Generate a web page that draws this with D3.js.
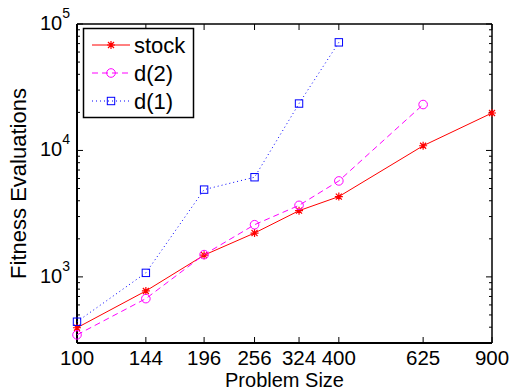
<!DOCTYPE html>
<html>
<head>
<meta charset="utf-8">
<script src="https://cdn.jsdelivr.net/npm/d3@7"></script>
<style>
  body { margin: 0; background: #fff; }
  text { font-family: "Liberation Sans", Arial, sans-serif; fill: #000; }
</style>
</head>
<body>
<script>
'use strict';

// problem sizes on the x axis
const sizes = [100, 144, 196, 256, 324, 400, 625, 900];
const xTickLabels = ["100", "144", "196", "256", "324", "400", "625", "900"];
const yDecades = [3, 4, 5];

// fitness evaluations per series
const stockSizes = [100, 144, 196, 256, 324, 400, 625, 900];
const stockVals = [396, 774, 1486, 2222, 3340, 4315, 10890, 19770];
const d2Sizes = [100, 144, 196, 256, 324, 400, 625];
const d2Vals = [348, 673, 1500, 2586, 3680, 5740, 23070];
const d1Sizes = [100, 144, 196, 256, 324, 400];
const d1Vals = [442, 1076, 4900, 6140, 23490, 71600];

const seriesNames = ["stock", "d(2)", "d(1)"];

(function() {
  const W = 512, H = 391;
  const left = 77, right = 492, top = 24, bottom = 343;

  const svg = d3.select('body').append('svg')
    .attr('width', W).attr('height', H);

  const x = d3.scaleLog().domain([100, 900]).range([left, right]);
  const y = d3.scaleLog().domain([300, 1e5]).range([bottom, top]);

  // minor y ticks (2..9 x 10^k) on both sides, pointing inward
  let minor = [];
  for (let k = 2; k <= 4; k++) {
    for (let m = 2; m <= 9; m++) {
      let v = m * Math.pow(10, k);
      if (v >= 300 && v <= 1e5) minor.push(v);
    }
  }
  const g = svg.append('g').attr('stroke', '#000');
  minor.forEach(function(v) {
    g.append('line').attr('x1', left).attr('x2', left + 3)
      .attr('y1', y(v)).attr('y2', y(v)).attr('stroke-width', 1);
    g.append('line').attr('x1', right).attr('x2', right - 3)
      .attr('y1', y(v)).attr('y2', y(v)).attr('stroke-width', 1);
  });
  yDecades.forEach(function(k) {
    let v = Math.pow(10, k);
    g.append('line').attr('x1', left).attr('x2', left + 6)
      .attr('y1', y(v)).attr('y2', y(v)).attr('stroke-width', 1);
    g.append('line').attr('x1', right).attr('x2', right - 6)
      .attr('y1', y(v)).attr('y2', y(v)).attr('stroke-width', 1);
  });
  sizes.forEach(function(s) {
    g.append('line').attr('x1', x(s)).attr('x2', x(s))
      .attr('y1', bottom).attr('y2', bottom - 6).attr('stroke-width', 1);
    g.append('line').attr('x1', x(s)).attr('x2', x(s))
      .attr('y1', top).attr('y2', top + 6).attr('stroke-width', 1);
  });

  // box
  svg.append('line').attr('x1', left).attr('x2', right).attr('y1', top).attr('y2', top)
    .attr('stroke', '#000').attr('stroke-width', 1.5);
  svg.append('line').attr('x1', right).attr('x2', right).attr('y1', top).attr('y2', bottom)
    .attr('stroke', '#000').attr('stroke-width', 1.5);
  svg.append('line').attr('x1', left).attr('x2', right).attr('y1', bottom).attr('y2', bottom)
    .attr('stroke', '#000').attr('stroke-width', 2);
  svg.append('line').attr('x1', left).attr('x2', left).attr('y1', top).attr('y2', bottom)
    .attr('stroke', '#000').attr('stroke-width', 2);

  // x tick labels
  svg.selectAll('.xlab').data(sizes).enter().append('text')
    .attr('class', 'xlab')
    .attr('x', d => x(d)).attr('y', 364.5)
    .attr('text-anchor', 'middle')
    .style('font-size', '20.5px')
    .text((d, i) => xTickLabels[i]);

  // y tick labels: 10^k
  yDecades.forEach(function(k) {
    let t = svg.append('text')
      .attr('x', 70).attr('y', y(Math.pow(10, k)) + 6)
      .attr('text-anchor', 'end')
      .style('font-size', '20px');
    t.append('tspan').text('10');
    t.append('tspan').attr('dy', -12).style('font-size', '14px').text(String(k));
  });

  // axis labels
  svg.append('text')
    .attr('transform', 'translate(26,' + ((top + bottom) / 2) + ')rotate(-90)')
    .attr('text-anchor', 'middle')
    .style('font-size', '22px')
    .text('Fitness Evaluations');
  svg.append('text')
    .attr('x', (left + right) / 2).attr('y', 386.8)
    .attr('text-anchor', 'middle')
    .style('font-size', '20px')
    .text('Problem Size');

  // markers
  function star(sel, cx, cy, color) {
    const r = 4;
    const p = 'M' + (cx - r) + ',' + cy + 'L' + (cx + r) + ',' + cy +
      'M' + cx + ',' + (cy - r) + 'L' + cx + ',' + (cy + r) +
      'M' + (cx - 3) + ',' + (cy - 3) + 'L' + (cx + 3) + ',' + (cy + 3) +
      'M' + (cx - 3) + ',' + (cy + 3) + 'L' + (cx + 3) + ',' + (cy - 3);
    sel.append('path').attr('d', p).attr('stroke', color).attr('stroke-width', 1.2).attr('fill', 'none');
  }
  function circ(sel, cx, cy, color) {
    sel.append('circle').attr('cx', cx).attr('cy', cy).attr('r', 4.3)
      .attr('fill', 'none').attr('stroke', color).attr('stroke-width', 1);
  }
  function square(sel, cx, cy, color) {
    sel.append('rect').attr('x', cx - 3.7).attr('y', cy - 3.7)
      .attr('width', 7.4).attr('height', 7.4)
      .attr('fill', 'none').attr('stroke', color).attr('stroke-width', 1);
  }

  const series = [
    { xs: stockSizes, vs: stockVals, color: '#ff0000', dash: null, marker: star },
    { xs: d2Sizes, vs: d2Vals, color: '#ff00ff', dash: '6,4', marker: circ },
    { xs: d1Sizes, vs: d1Vals, color: '#0000ff', dash: '1,3', marker: square }
  ];

  const line = d3.line().x(d => x(d[0])).y(d => y(d[1]));
  const plot = svg.append('g');
  series.forEach(function(s) {
    let pts = s.xs.map((v, i) => [v, s.vs[i]]);
    plot.append('path').datum(pts)
      .attr('d', line)
      .attr('fill', 'none')
      .attr('stroke', s.color)
      .attr('stroke-width', 1)
      .attr('stroke-dasharray', s.dash);
    pts.forEach(p => s.marker(plot, x(p[0]), y(p[1]), s.color));
  });

  // legend
  const lg = svg.append('g');
  lg.append('rect').attr('x', 83.5).attr('y', 28.5).attr('width', 110).attr('height', 89)
    .attr('fill', '#fff').attr('stroke', '#000').attr('stroke-width', 1.5);
  const rows = [45, 73, 101];
  series.forEach(function(s, i) {
    lg.append('line').attr('x1', 92).attr('x2', 130)
      .attr('y1', rows[i]).attr('y2', rows[i])
      .attr('stroke', s.color).attr('stroke-width', 1)
      .attr('stroke-dasharray', s.dash);
    s.marker(lg, 111, rows[i], s.color);
    lg.append('text').attr('x', 134).attr('y', rows[i] + 8)
      .style('font-size', '22px')
      .text(seriesNames[i]);
  });
})();
</script>
</body>
</html>
